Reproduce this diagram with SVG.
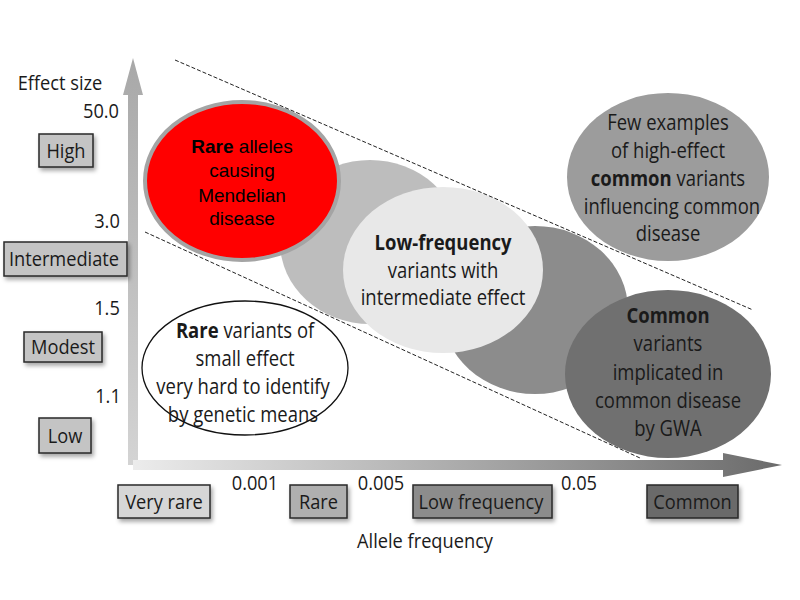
<svg xmlns="http://www.w3.org/2000/svg" width="800" height="600" viewBox="0 0 800 600">
<defs>
<linearGradient id="gx" x1="133" y1="0" x2="785" y2="0" gradientUnits="userSpaceOnUse">
<stop offset="0" stop-color="#ececec"/>
<stop offset="1" stop-color="#6a6a6a"/>
</linearGradient>
<linearGradient id="gy" x1="0" y1="58" x2="0" y2="470" gradientUnits="userSpaceOnUse">
<stop offset="0" stop-color="#a8a8a8"/>
<stop offset="1" stop-color="#d4d4d4"/>
</linearGradient>
<filter id="sh" x="-20%" y="-30%" width="150%" height="180%">
<feDropShadow dx="2" dy="3" stdDeviation="2" flood-color="#000" flood-opacity="0.35"/>
</filter>
</defs>
<style>
text{font-family:"Open Sans","Liberation Sans",sans-serif;fill:#1a1a1a}
.t{font-size:20.5px;transform:scaleX(.89);transform-box:fill-box;transform-origin:50% 50%}
.e{font-size:21.5px;transform:scaleX(.86);transform-box:fill-box;transform-origin:50% 50%}
.c{text-anchor:middle}
.r{text-anchor:end}
.b{font-weight:bold}
.box{stroke:#2a2a2a;stroke-width:1.5;filter:url(#sh)}
.arial{font-family:"Liberation Sans",Arial,sans-serif;font-size:19px;fill:#000}
.dash{fill:none;stroke:#222;stroke-width:1;stroke-dasharray:4 2}
</style>
<rect width="800" height="600" fill="#fff"/>

<g id="axes">
<path d="M128,95 L123,95 L133,58 L143,95 L138,95 L138,465 L128,465 Z" fill="url(#gy)"/>
<path d="M133,460 L723,460 L723,453 L782,465 L723,477 L723,470 L133,470 Z" fill="url(#gx)"/>
</g>

<g id="y-labels">
<text class="t c" x="60" y="90">Effect size</text>
<text class="t c" x="101" y="118">50.0</text>
<g id="box-high"><rect class="box" x="39" y="134" width="54" height="33" fill="#c4c4c4"/><text class="t c" x="66" y="158">High</text></g>
<text class="t c" x="107" y="228">3.0</text>
<g id="box-intermediate"><rect class="box" x="4" y="242" width="123" height="34" fill="#c4c4c4"/><text class="t c" x="64" y="266">Intermediate</text></g>
<text class="t c" x="107" y="315">1.5</text>
<g id="box-modest"><rect class="box" x="24" y="332" width="78" height="30" fill="#c4c4c4"/><text class="t c" x="63" y="354">Modest</text></g>
<text class="t c" x="108" y="403">1.1</text>
<g id="box-low"><rect class="box" x="39" y="418" width="52" height="35" fill="#c4c4c4"/><text class="t c" x="65" y="443">Low</text></g>
</g>

<g id="x-labels">
<g id="box-veryrare"><rect class="box" x="118" y="485" width="92" height="33" fill="#d6d6d6"/><text class="t c" x="164" y="509">Very rare</text></g>
<text class="t c" x="255" y="490">0.001</text>
<g id="box-rare"><rect class="box" x="290" y="485" width="57" height="33" fill="#afafaf"/><text class="t c" x="318.5" y="509">Rare</text></g>
<text class="t c" x="381" y="490">0.005</text>
<g id="box-lowfreq"><rect class="box" x="413" y="485" width="139" height="33" fill="#8c8c8c"/><text class="t c" x="481" y="509">Low frequency</text></g>
<text class="t c" x="579" y="490">0.05</text>
<g id="box-common"><rect class="box" x="647" y="485" width="91" height="33" fill="#6a6a6a"/><text class="t c" x="692.5" y="509">Common</text></g>
<text class="t c" x="425" y="548">Allele frequency</text>
</g>

<g id="bg-ellipse-1"><ellipse cx="370" cy="242" rx="90" ry="82" fill="#bdbdbd"/></g>
<g id="node-mendelian">
<ellipse cx="242" cy="181" rx="97" ry="79" fill="#ff0000" stroke="#a4a4a4" stroke-width="4"/>
<text class="arial c" x="242" y="153"><tspan font-weight="bold">Rare</tspan> alleles</text>
<text class="arial c" x="242" y="177">causing</text>
<text class="arial c" x="242" y="202">Mendelian</text>
<text class="arial c" x="242" y="225">disease</text>
</g>
<g id="bg-ellipse-2"><ellipse cx="535" cy="310" rx="93" ry="84" fill="#8c8c8c"/></g>
<g id="node-lowfreq">
<ellipse cx="443" cy="270" rx="100" ry="83" fill="#e8e8e8"/>
<text class="e c b" x="443" y="250">Low-frequency</text>
<text class="e c" x="443" y="278">variants with</text>
<text class="e c" x="443" y="305">intermediate effect</text>
</g>
<g id="node-common">
<ellipse cx="668" cy="374" rx="103" ry="84" fill="#707070"/>
<text class="e c b" x="668" y="323">Common</text>
<text class="e c" x="668" y="351">variants</text>
<text class="e c" x="668" y="380">implicated in</text>
<text class="e c" x="668" y="408">common disease</text>
<text class="e c" x="668" y="436">by GWA</text>
</g>
<g id="node-few">
<ellipse cx="668" cy="177" rx="101" ry="84" fill="#9c9c9c"/>
<text class="e c" x="668" y="130">Few examples</text>
<text class="e c" x="668" y="158">of high-effect</text>
<text class="e c" x="668" y="186"><tspan font-weight="bold">common</tspan> variants</text>
<text class="e c" x="672" y="214">influencing common</text>
<text class="e c" x="668" y="241">disease</text>
</g>
<g id="node-small">
<ellipse cx="245" cy="368" rx="103" ry="67" fill="#fff" stroke="#111" stroke-width="1.3"/>
<text class="e c" x="245" y="338"><tspan font-weight="bold">Rare</tspan> variants of</text>
<text class="e c" x="245" y="366">small effect</text>
<text class="e c" x="243" y="394">very hard to identify</text>
<text class="e c" x="243" y="422">by genetic means</text>
</g>

<g id="connectors">
<line class="dash" x1="175" y1="60" x2="753" y2="310"/>
<line class="dash" x1="145" y1="232" x2="640" y2="458"/>
</g>
</svg>
